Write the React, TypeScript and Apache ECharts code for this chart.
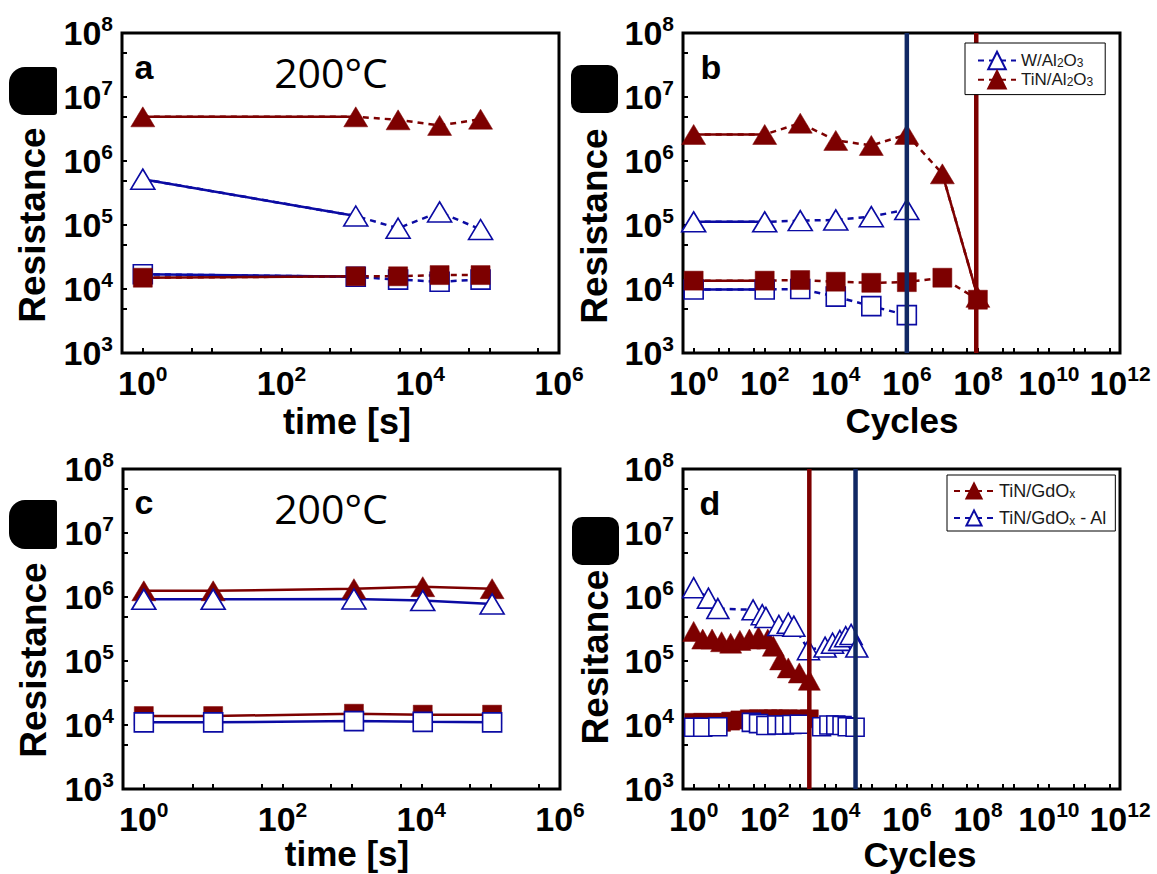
import React, { useEffect, useRef } from 'react';
import * as echarts from 'echarts';

// ---------------- data ----------------
// panel a : retention at 200°C (time [s])
const aTime = [1, 1175, 4790, 19000, 74000];
const aTiN_HRS = [4.9e6, 4.9e6, 4.4e6, 3.6e6, 4.5e6];
const aW_HRS = [5.2e5, 1.38e5, 8.9e4, 1.6e5, 8.5e4];
const aW_LRS = [1.7e4, 1.55e4, 1.4e4, 1.3e4, 1.4e4];
const aTiN_LRS = [1.5e4, 1.58e4, 1.58e4, 1.65e4, 1.65e4];

// panel b : endurance (Cycles)
const bCycles = [1, 100, 1000, 1e4, 1e5, 1e6, 1e7, 1e8];
const bTiN_HRS = [2.6e6, 2.6e6, 3.9e6, 2.1e6, 1.75e6, 2.6e6, 6.3e5, 7.4e3];
const bW_HRS = [1.12e5, 1.12e5, 1.17e5, 1.2e5, 1.35e5, 1.75e5];
const bTiN_LRS = [1.35e4, 1.35e4, 1.38e4, 1.3e4, 1.25e4, 1.28e4, 1.5e4, 6.8e3];
const bW_LRS = [9.8e3, 9.8e3, 1.0e4, 7.6e3, 5.4e3, 3.9e3];
const bFailW = 1e6;
const bFailTiN = 9e7;

// panel c : retention at 200°C (time [s])
const cTime = [1, 10, 1070, 1.05e4, 1.05e5];
const cRed_HRS = [1.25e6, 1.25e6, 1.35e6, 1.45e6, 1.35e6];
const cBlue_HRS = [9.2e5, 9.2e5, 9.3e5, 8.8e5, 7.8e5];
const cRed_LRS = [1.38e4, 1.38e4, 1.5e4, 1.45e4, 1.45e4];
const cBlue_LRS = [1.1e4, 1.1e4, 1.15e4, 1.12e4, 1.1e4];

// panel d : endurance (Cycles)
const dRedCycles = [1, 1.8, 3.3, 6.1, 11, 20, 37, 67, 122, 175, 280, 460, 940, 1800];
const dRed_HRS = [2.9e5, 2.2e5, 2.2e5, 2.0e5, 1.9e5, 2.1e5, 2.2e5, 2.4e5, 2.2e5, 1.7e5, 1.04e5, 7.8e4, 6.5e4, 5.0e4];
const dRed_LRS = [1.1e4, 1.1e4, 1.1e4, 1.1e4, 1.15e4, 1.2e4, 1.25e4, 1.25e4, 1.25e4, 1.25e4, 1.25e4, 1.25e4, 1.25e4, 1.25e4];
const dBlueTriCycles = [1, 2.6, 4.8, 47, 85, 108, 250, 460, 660, 1700, 5000, 8100, 1.3e4, 1.9e4, 2.7e4, 3.9e4];
const dBlue_HRS = [1.4e6, 9.6e5, 6.6e5, 6.3e5, 5.3e5, 4.8e5, 3.6e5, 3.9e5, 3.5e5, 1.5e5, 1.65e5, 1.9e5, 2.1e5, 2.4e5, 2.6e5, 1.65e5];
const dBlueSqCycles = [1, 1.8, 4.8, 42, 67, 108, 220, 360, 580, 940, 4000, 6400, 1e4, 1.5e4, 2.1e4, 3.5e4];
const dBlue_LRS = [9.2e3, 9.2e3, 9.4e3, 1.1e4, 1.05e4, 9.8e3, 1.0e4, 1.0e4, 1.02e4, 1.03e4, 9.4e3, 1.0e4, 1.0e4, 9.8e3, 9.4e3, 9.2e3];
const dFailRed = 1800;
const dFailBlue = 3.6e4;

// tick exponents
const yExps = [3, 4, 5, 6, 7, 8];
const xExpsTime = [0, 2, 4, 6];
const xExpsCycles = [0, 2, 4, 6, 8, 10, 12];

// ---------------- styles ----------------
const RED = '#7d0000';
const BLUE = '#0b0ba3';
const NAVY = '#102864';
const FONT = '"Liberation Sans", Arial, Helvetica, sans-serif';

const GRIDS = [
  { left: 122, top: 33, width: 437, height: 320 },
  { left: 683, top: 33, width: 437, height: 320 },
  { left: 123, top: 469, width: 437, height: 320 },
  { left: 683, top: 469, width: 437, height: 320 },
];

const XMIN = Math.pow(10, -0.3);
const XMAX = [1e6 * 1.0000001, 1e12 * 1.0000001, 1e6 * 1.0000001, 1e12 * 1.0000001];

function tickVals(lo: number, hi: number): number[] {
  const r: number[] = [];
  for (let e = lo; e <= hi; e++) {
    r.push(Math.pow(10, e));
    if (e < hi) r.push(5 * Math.pow(10, e));
  }
  return r;
}

const labelRich = {
  m: { fontSize: 34, fontWeight: 'bold', fontFamily: FONT, lineHeight: 40, color: '#000' },
  s: { fontSize: 21, fontWeight: 'bold', fontFamily: FONT, lineHeight: 16, verticalAlign: 'top', color: '#000' },
};
const fmtPow = (v: number) => `{m|10}{s|${Math.round(Math.log10(v))}}`;

type Spec = {
  name?: string;
  grid: number;
  xs: number[];
  ys: number[];
  symbol: string;
  filled: boolean;
  color: string;
  size: number | number[];
  dashed: boolean;
  solid: number[];
};

function build(spec: Spec): any[] {
  const data = spec.ys.map((y, i) => [spec.xs[i], y]);
  const main: any = {
    type: 'line',
    xAxisIndex: spec.grid,
    yAxisIndex: spec.grid,
    data,
    symbol: spec.symbol,
    symbolSize: spec.size,
    showSymbol: true,
    showAllSymbol: true,
    z: 3,
    silent: true,
    itemStyle: spec.filled
      ? { color: spec.color, borderColor: spec.color, borderWidth: 0.5 }
      : { color: '#ffffff', borderColor: spec.color, borderWidth: 1.6 },
    lineStyle: { color: spec.color, width: 2.5, type: spec.dashed ? [6, 5] : 'solid' },
    emphasis: { disabled: true },
  };
  if (spec.name) main.name = spec.name;
  const segs = spec.solid.map((i) => ({
    type: 'line',
    xAxisIndex: spec.grid,
    yAxisIndex: spec.grid,
    data: [data[i], data[i + 1]],
    symbol: 'none',
    z: 2,
    silent: true,
    lineStyle: { color: spec.color, width: 2.5, type: 'solid' },
    emphasis: { disabled: true },
  }));
  return [main, ...segs];
}

function vline(grid: number, x: number, color: string): any {
  return {
    type: 'line',
    xAxisIndex: grid,
    yAxisIndex: grid,
    data: [[x, 1e3], [x, 1e8]],
    symbol: 'none',
    z: 4,
    silent: true,
    lineStyle: { color, width: 4.5 },
    emphasis: { disabled: true },
  };
}

const TRI = [24, 20];
const SQ = 19;

function buildOption(): any {
  const xAxis = GRIDS.map((_, i) => {
    const cyc = i === 1 || i === 3;
    return {
      type: 'log',
      logBase: 10,
      gridIndex: i,
      min: XMIN,
      max: XMAX[i],
      axisLine: { show: false },
      splitLine: { show: false },
      minorTick: { show: false },
      axisTick: {
        show: true,
        inside: true,
        length: 5,
        lineStyle: { color: '#000', width: 2 },
        customValues: tickVals(0, cyc ? 12 : 6),
      },
      axisLabel: {
        show: true,
        margin: 10,
        customValues: (cyc ? xExpsCycles : xExpsTime).map((e) => Math.pow(10, e)),
        formatter: fmtPow,
        rich: labelRich,
        showMinLabel: true,
        showMaxLabel: true,
      },
    };
  });
  const yAxis = GRIDS.map((_, i) => ({
    type: 'log',
    logBase: 10,
    gridIndex: i,
    min: 1e3 / 1.0000001,
    max: 1e8 * 1.0000001,
    axisLine: { show: false },
    splitLine: { show: false },
    minorTick: { show: false },
    axisTick: {
      show: true,
      inside: true,
      length: 5,
      lineStyle: { color: '#000', width: 2 },
      customValues: tickVals(3, 8),
    },
    axisLabel: {
      show: true,
      margin: 9,
      customValues: yExps.map((e) => Math.pow(10, e)),
      formatter: fmtPow,
      rich: labelRich,
      showMinLabel: true,
      showMaxLabel: true,
    },
  }));

  const series: any[] = [
    // panel a
    ...build({ grid: 0, xs: aTime, ys: aW_HRS, symbol: 'triangle', filled: false, color: BLUE, size: TRI, dashed: true, solid: [0] }),
    ...build({ grid: 0, xs: aTime, ys: aTiN_HRS, symbol: 'triangle', filled: true, color: RED, size: TRI, dashed: true, solid: [0] }),
    ...build({ grid: 0, xs: aTime, ys: aW_LRS, symbol: 'rect', filled: false, color: BLUE, size: SQ, dashed: true, solid: [0] }),
    ...build({ grid: 0, xs: aTime, ys: aTiN_LRS, symbol: 'rect', filled: true, color: RED, size: SQ, dashed: true, solid: [0] }),
    // panel b
    ...build({ name: 'W/Al2O3', grid: 1, xs: bCycles, ys: bW_HRS, symbol: 'triangle', filled: false, color: BLUE, size: TRI, dashed: true, solid: [0] }),
    ...build({ name: 'TiN/Al2O3', grid: 1, xs: bCycles, ys: bTiN_HRS, symbol: 'triangle', filled: true, color: RED, size: TRI, dashed: true, solid: [0, 6] }),
    ...build({ grid: 1, xs: bCycles, ys: bW_LRS, symbol: 'rect', filled: false, color: BLUE, size: SQ, dashed: true, solid: [0] }),
    ...build({ grid: 1, xs: bCycles, ys: bTiN_LRS, symbol: 'rect', filled: true, color: RED, size: SQ, dashed: true, solid: [0] }),
    vline(1, bFailW, NAVY),
    vline(1, bFailTiN, RED),
    // panel c
    ...build({ grid: 2, xs: cTime, ys: cRed_HRS, symbol: 'triangle', filled: true, color: RED, size: TRI, dashed: false, solid: [] }),
    ...build({ grid: 2, xs: cTime, ys: cBlue_HRS, symbol: 'triangle', filled: false, color: BLUE, size: TRI, dashed: false, solid: [] }),
    ...build({ grid: 2, xs: cTime, ys: cRed_LRS, symbol: 'rect', filled: true, color: RED, size: SQ, dashed: false, solid: [] }),
    ...build({ grid: 2, xs: cTime, ys: cBlue_LRS, symbol: 'rect', filled: false, color: BLUE, size: SQ, dashed: false, solid: [] }),
    // panel d
    ...build({ name: 'TiN/GdOx', grid: 3, xs: dRedCycles, ys: dRed_HRS, symbol: 'triangle', filled: true, color: RED, size: [22, 20], dashed: true, solid: [] }),
    ...build({ name: 'TiN/GdOx - Al', grid: 3, xs: dBlueTriCycles, ys: dBlue_HRS, symbol: 'triangle', filled: false, color: BLUE, size: [22, 20], dashed: true, solid: [] }),
    ...build({ grid: 3, xs: dRedCycles, ys: dRed_LRS, symbol: 'rect', filled: true, color: RED, size: 18, dashed: true, solid: [] }),
    ...build({ grid: 3, xs: dBlueSqCycles, ys: dBlue_LRS, symbol: 'rect', filled: false, color: BLUE, size: 18, dashed: true, solid: [] }),
    vline(3, dFailRed, RED),
    vline(3, dFailBlue, NAVY),
  ];

  const legendNames: Record<string, string> = {
    'W/Al2O3': 'W/Al{sb|2}O{sb|3}',
    'TiN/Al2O3': 'TiN/Al{sb|2}O{sb|3}',
    'TiN/GdOx': 'TiN/GdO{sb|x}',
    'TiN/GdOx - Al': 'TiN/GdO{sb|x} - Al',
  };

  const legend = [
    {
      data: ['W/Al2O3', 'TiN/Al2O3'],
      orient: 'vertical',
      left: 965,
      top: 43,
      z: 10,
      selectedMode: false,
      backgroundColor: '#ffffff',
      borderColor: '#000',
      borderWidth: 1,
      borderRadius: 0,
      padding: [5, 12, 5, 12],
      itemWidth: 38,
      itemHeight: 22,
      itemGap: -3,
      formatter: (n: string) => legendNames[n] || n,
      textStyle: {
        fontSize: 17,
        lineHeight: 17,
        fontFamily: FONT,
        color: '#1a1a1a',
        rich: { sb: { fontSize: 12, lineHeight: 12, fontFamily: FONT, color: '#1a1a1a', verticalAlign: 'bottom', padding: [9, 0, 0, 0] } },
      },
    },
    {
      data: ['TiN/GdOx', 'TiN/GdOx - Al'],
      orient: 'vertical',
      left: 947,
      top: 475,
      z: 10,
      selectedMode: false,
      backgroundColor: '#ffffff',
      borderColor: '#000',
      borderWidth: 1,
      borderRadius: 0,
      padding: [4, 8, 4, 6],
      itemWidth: 40,
      itemHeight: 19,
      itemGap: 6,
      formatter: (n: string) => legendNames[n] || n,
      textStyle: {
        fontSize: 18,
        lineHeight: 18,
        fontFamily: FONT,
        color: '#1a1a1a',
        rich: { sb: { fontSize: 12, lineHeight: 12, fontFamily: FONT, color: '#1a1a1a', verticalAlign: 'bottom', padding: [9, 0, 0, 0] } },
      },
    },
  ];

  const txt = (text: string, x: number, y: number, size: number, opts: any = {}) => ({
    type: 'text',
    x,
    y,
    rotation: opts.rot ? Math.PI / 2 : 0,
    z: 20,
    silent: true,
    style: {
      text,
      fontSize: size,
      lineHeight: opts.lh || size,
      fontWeight: opts.weight || 'bold',
      fontFamily: opts.family || FONT,
      fill: '#000',
      textAlign: 'center',
      align: 'center',
      textVerticalAlign: 'middle',
      verticalAlign: 'middle',
    },
  });
  const blob = (x: number, y: number, w: number, h: number, r: any) => ({
    type: 'rect',
    z: 20,
    silent: true,
    shape: { x, y, width: w, height: h, r },
    style: { fill: '#000' },
  });

  const graphic = [
    txt('Resistance', 32, 225, 37, { rot: true }),
    txt('Resistance', 594, 226, 37, { rot: true }),
    txt('Resistance', 33, 660, 37, { rot: true }),
    txt('Resitance', 595, 657, 37, { rot: true }),
    txt('time [s]', 347, 421, 36, { lh: 24 }),
    txt('Cycles', 902, 420, 35, { lh: 22 }),
    txt('time [s]', 347, 853, 35, { lh: 22 }),
    txt('Cycles', 920, 854, 35, { lh: 22 }),
    txt('a', 144, 67, 34),
    txt('b', 711, 67, 34),
    txt('c', 144, 502, 34),
    txt('d', 710, 503, 34),
    txt('200°C', 331, 72, 41, { weight: 'normal', family: '"Open Sans", "Noto Sans", sans-serif' }),
    txt('200°C', 331, 508, 41, { weight: 'normal', family: '"Open Sans", "Noto Sans", sans-serif' }),
    blob(9, 67, 48, 48, [16, 3, 3, 16]),
    blob(571, 65, 47, 48, 10),
    blob(9, 500, 48, 49, [16, 3, 3, 16]),
    blob(572, 517, 47, 48, 10),
  ];

  return {
    animation: false,
    backgroundColor: '#ffffff',
    grid: GRIDS.map((g) => ({
      ...g,
      show: true,
      borderColor: '#000',
      borderWidth: 3,
      backgroundColor: 'transparent',
      containLabel: false,
      outerBoundsMode: 'none',
    })),
    xAxis,
    yAxis,
    legend,
    series,
    graphic,
  };
}

export default function App() {
  const ref = useRef<HTMLDivElement>(null);
  useEffect(() => {
    if (!ref.current) return;
    const chart = echarts.init(ref.current, undefined, { renderer: 'svg' });
    chart.setOption(buildOption());
    return () => chart.dispose();
  }, []);
  return (
    <div
      ref={ref}
      style={{ position: 'absolute', left: 0, top: 0, width: 1157, height: 874, background: '#fff' }}
    />
  );
}
